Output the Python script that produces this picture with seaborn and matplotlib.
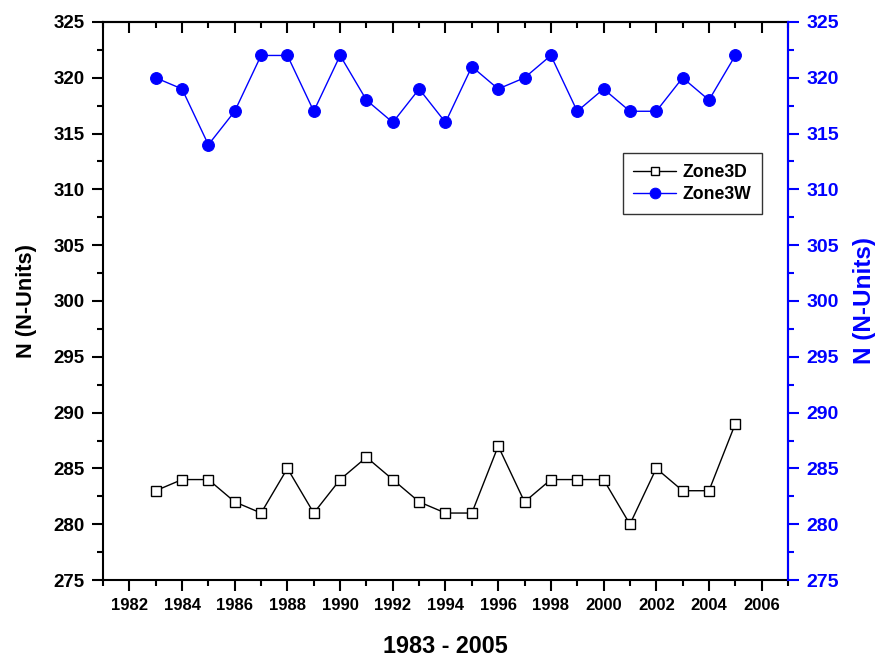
import matplotlib
matplotlib.use('Agg')
import matplotlib.pyplot as plt
from matplotlib.ticker import MultipleLocator, NullFormatter
import seaborn as sns
import pandas as pd

years = list(range(1983, 2006))
zone3d = [283, 284, 284, 282, 281, 285, 281, 284, 286, 284, 282, 281,
          281, 287, 282, 284, 284, 284, 280, 285, 283, 283, 289]
zone3w = [320, 319, 314, 317, 322, 322, 317, 322, 318, 316, 319, 316,
          321, 319, 320, 322, 317, 319, 317, 317, 320, 318, 322]

df = pd.DataFrame({'year': years, 'Zone3D': zone3d, 'Zone3W': zone3w})

sns.set_style('white')
plt.rcParams['font.family'] = ['Liberation Sans', 'DejaVu Sans']
plt.rcParams['font.weight'] = 'bold'
plt.rcParams['text.color'] = 'black'
plt.rcParams['axes.labelcolor'] = 'black'
plt.rcParams['xtick.color'] = 'black'
plt.rcParams['ytick.color'] = 'black'

fig = plt.figure(figsize=(8.78, 6.6), dpi=100)
ax = fig.add_axes([0.1173, 0.1212, 0.7802, 0.8455])

sns.lineplot(data=df, x='year', y='Zone3D', ax=ax, color='black', lw=1.0,
             marker='s', markersize=7, markerfacecolor='white',
             markeredgecolor='black', markeredgewidth=1.0, label='Zone3D')
sns.lineplot(data=df, x='year', y='Zone3W', ax=ax, color='blue', lw=1.0,
             marker='o', markersize=8.5, markerfacecolor='blue',
             markeredgecolor='blue', label='Zone3W')

ax.set_xlim(1981, 2007)
ax.set_ylim(275, 325)
ax.xaxis.set_major_locator(MultipleLocator(2))
ax.xaxis.set_minor_locator(MultipleLocator(1))
ax.yaxis.set_major_locator(MultipleLocator(5))
ax.yaxis.set_minor_locator(MultipleLocator(2.5))

for s in ax.spines.values():
    s.set_linewidth(1.5)
    s.set_color('black')
ax.tick_params(axis='both', which='major', direction='out', length=8, width=1.5,
               color='black', labelcolor='black')
ax.tick_params(axis='both', which='minor', direction='out', length=4, width=1.5,
               color='black')
ax.tick_params(axis='x', which='both', bottom=True, top=False)
ax.tick_params(axis='x', which='major', labelsize=12, pad=5)
ax.tick_params(axis='y', which='both', left=True, right=False)
ax.tick_params(axis='y', which='major', labelsize=13.5, pad=5)
for lab in ax.get_xticklabels() + ax.get_yticklabels():
    lab.set_fontweight('bold')

# 上側の目盛りは内向き
top = ax.secondary_xaxis('top')
top.xaxis.set_major_locator(MultipleLocator(2))
top.xaxis.set_minor_locator(MultipleLocator(1))
top.xaxis.set_major_formatter(NullFormatter())
top.tick_params(which='major', direction='in', length=8, width=1.5, color='black')
top.tick_params(which='minor', direction='in', length=4, width=1.5, color='black')
top.spines['top'].set_linewidth(1.5)

ax.set_xlabel('1983 - 2005', fontsize=16.8, fontweight='bold', labelpad=16)
ax.set_ylabel('N (N-Units)', fontsize=15.7, fontweight='bold', labelpad=12)

# 右軸（青）
axr = ax.twinx()
axr.set_ylim(275, 325)
axr.yaxis.set_major_locator(MultipleLocator(5))
axr.yaxis.set_minor_locator(MultipleLocator(2.5))
axr.spines['right'].set_color('blue')
axr.spines['right'].set_linewidth(1.5)
for k in ['left', 'top', 'bottom']:
    axr.spines[k].set_visible(False)
axr.tick_params(axis='y', which='both', right=True, left=False)
axr.tick_params(axis='y', which='major', direction='out', length=8, width=1.5,
                colors='blue', labelsize=14, pad=5)
axr.tick_params(axis='y', which='minor', direction='out', length=4, width=1.5,
                colors='blue')
for lab in axr.get_yticklabels():
    lab.set_fontweight('bold')
axr.set_ylabel('N (N-Units)', fontsize=17.5, fontweight='bold', color='blue',
               labelpad=10)

leg = ax.legend(loc='upper left', bbox_to_anchor=(0.759, 0.765), borderaxespad=0,
                frameon=True, fancybox=False, edgecolor='black', fontsize=12.7,
                handlelength=2.4, handletextpad=0.4, borderpad=0.6,
                labelspacing=0.3, markerscale=0.9)
leg.get_frame().set_linewidth(1.0)
for t in leg.get_texts():
    t.set_fontweight('bold')
    t.set_color('black')

fig.savefig('out.png', dpi=100, facecolor='white')
